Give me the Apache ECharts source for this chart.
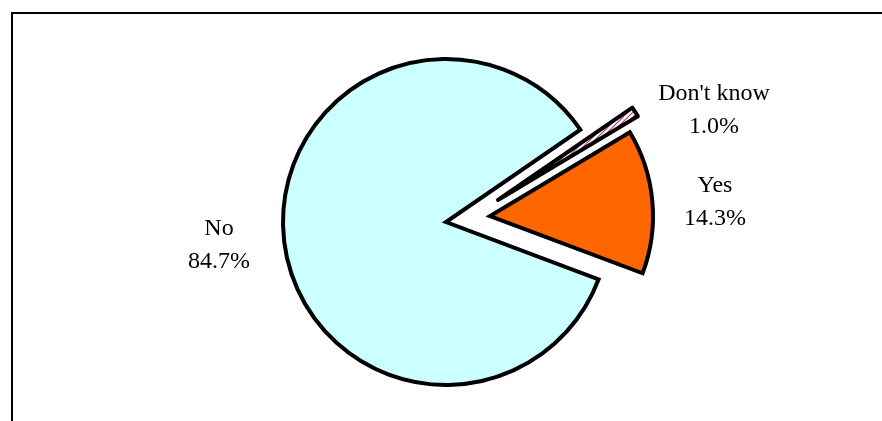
<!DOCTYPE html>
<html>
<head>
<meta charset="utf-8">
<script src="https://cdn.jsdelivr.net/npm/echarts@6/dist/echarts.min.js"></script>
<style>
  html, body { margin: 0; padding: 0; background: #ffffff; }
  #chart { width: 882px; height: 421px; }
</style>
</head>
<body>
<div id="chart"></div>
<script>
// ---- data ----
const categories = ["Don't know", "Yes", "No"];
const values = [1.0, 14.3, 84.7];

// ---- styling / layout ----
const pieCenter = [446, 222];
const pieRadius = 163;
const startAngle = 34.5;
// explode offsets (px) for each slice
const explode = [[52, -22], [44, -6], [0, 0]];
const labelPos = [[714, 110], [715, 202], [219, 245]];
const joins = ['round', 'miter', 'miter'];
const drawOrder = [2, 1, 0];

function hatch() {
  const c = document.createElement('canvas');
  c.width = 5; c.height = 5;
  const g = c.getContext('2d');
  g.fillStyle = '#ffffff';
  g.fillRect(0, 0, 5, 5);
  g.strokeStyle = '#b03a80';
  g.lineWidth = 1.2;
  g.beginPath();
  g.moveTo(-1, 6); g.lineTo(6, -1);
  g.moveTo(-1, 1); g.lineTo(1, -1);
  g.moveTo(4, 6); g.lineTo(6, 4);
  g.stroke();
  return c;
}
const fills = [{ image: hatch(), repeat: 'repeat' }, '#FF6600', '#CCFFFF'];

const chart = echarts.init(document.getElementById('chart'), null, { renderer: 'canvas' });

const series = drawOrder.map(function (k) {
  return {
    type: 'pie',
    name: categories[k],
    center: [pieCenter[0] + explode[k][0], pieCenter[1] + explode[k][1]],
    radius: [0, pieRadius],
    startAngle: startAngle,
    clockwise: true,
    avoidLabelOverlap: false,
    animation: false,
    silent: true,
    labelLine: { show: false },
    labelLayout: function () {
      return {
        x: labelPos[k][0],
        y: labelPos[k][1],
        align: 'center',
        verticalAlign: 'middle'
      };
    },
    data: categories.map(function (name, i) {
      const visible = (i === k);
      return {
        name: name,
        value: values[i],
        itemStyle: visible ? {
          color: fills[i],
          borderColor: '#000000',
          borderWidth: 4,
          borderJoin: joins[i],
          borderMiterLimit: 10
        } : {
          color: 'rgba(0,0,0,0)',
          borderWidth: 0
        },
        label: visible ? {
          show: true,
          position: 'outside',
          formatter: function (p) { return p.name + '\n' + p.value.toFixed(1) + '%'; },
          fontFamily: 'Liberation Serif',
          fontSize: 24,
          lineHeight: 33,
          color: '#000000'
        } : { show: false }
      };
    })
  };
});

chart.setOption({
  backgroundColor: '#ffffff',
  animation: false,
  graphic: [{
    type: 'rect',
    shape: { x: 12, y: 13, width: 900, height: 450 },
    style: { fill: 'none', stroke: '#000000', lineWidth: 2 },
    silent: true
  }],
  series: series
});
</script>
</body>
</html>
